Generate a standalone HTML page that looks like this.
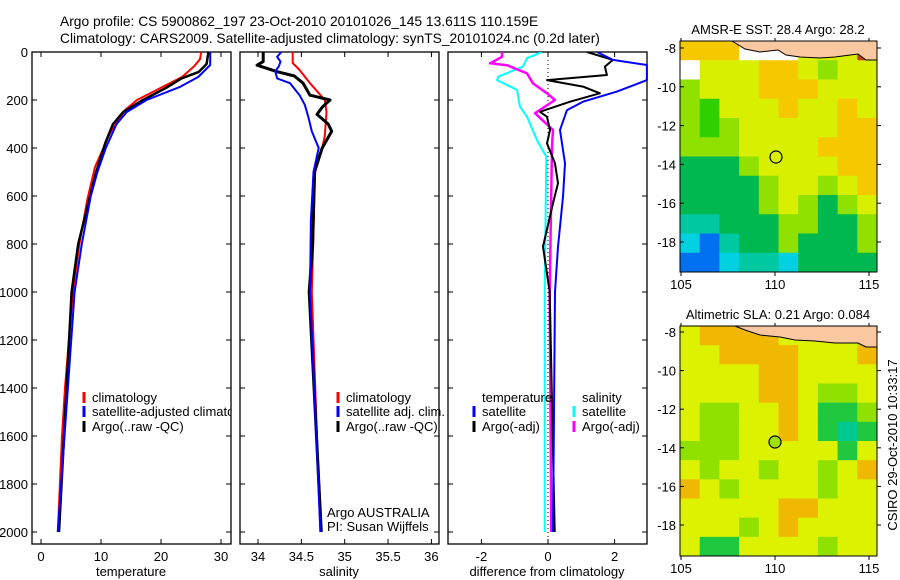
<!DOCTYPE html>
<html><head><meta charset="utf-8"><style>
html,body{margin:0;padding:0;background:#fff;}
svg{display:block;font-family:"Liberation Sans",sans-serif;}
text{fill:#000;}
</style></head><body>
<svg id="fig" width="900" height="580" viewBox="0 0 900 580" xmlns="http://www.w3.org/2000/svg">
<defs>
<clipPath id="c1"><rect x="32" y="52" width="199" height="492"/></clipPath>
<clipPath id="c2"><rect x="240" y="52" width="199" height="492"/></clipPath>
<clipPath id="c3"><rect x="448" y="52" width="200" height="492"/></clipPath>
<clipPath id="cm1"><rect x="680" y="41" width="197" height="231"/></clipPath>
<clipPath id="cm2"><rect x="680" y="326" width="197" height="230"/></clipPath>
</defs>
<text x="60" y="26" font-size="13.8">Argo profile: CS 5900862_197 23-Oct-2010 20101026_145 13.611S 110.159E</text>
<text x="60" y="43" font-size="13.8">Climatology: CARS2009. Satellite-adjusted climatology: synTS_20101024.nc (0.2d later)</text>
<g id="g1"></g>
<g id="g2"></g>
<g id="g3"></g>
<g id="m1"></g>
<g id="m2"></g>
<text transform="translate(897,445) rotate(-90)" text-anchor="middle" font-size="13">CSIRO 29-Oct-2010 10:33:17</text>
</svg>
<script>
// depth-profile data (depth m, value)
const tClimD=[0,30,60,104,158,200,242,338,479,617,800,1000,1400,1600,2000];
const tClimV=[26.7,26.5,25.5,23.5,19.3,16,14,11.5,9,7.7,6.4,5.3,4,3.5,2.8];
const tSatD=[0,54,104,145,200,250,300,400,500,600,800,1000,2000];
const tSatV=[28.2,28.2,26.2,23.2,17.6,14.3,12.6,10.8,9.4,8.3,6.8,5.6,2.8];
const tArgoD=[0,50,83,110,150,200,250,300,380,500,800,1000,2000];
const tArgoV=[27.9,27.6,26.3,23.4,20.8,17,13.7,12,10.7,9.2,6.2,5.1,3.0];
const sClimD=[0,46,75,130,200,250,350,400,500,1000,2000];
const sClimV=[34.4,34.4,34.48,34.6,34.77,34.79,34.77,34.74,34.66,34.62,34.72];
const sSatD=[0,20,40,60,80,110,130,180,220,270,330,400,500,700,1000,2000];
const sSatV=[34.27,34.22,34.26,34.24,34.2,34.22,34.37,34.48,34.54,34.58,34.62,34.7,34.64,34.61,34.6,34.72];
const sArgoD=[0,40,55,82,100,130,180,200,230,260,300,330,400,500,800,1000,2000];
const sArgoV=[34.06,34.06,33.99,34.22,34.42,34.52,34.6,34.83,34.74,34.68,34.81,34.85,34.74,34.65,34.63,34.59,34.73];
const dTsatD=[0,33,54,117,165,207,242,325,464,603,811,1000,2000];
const dTsatV=[1.47,1.95,2.97,2.97,2.07,1.05,0.57,0.36,0.51,0.45,0.3,0.21,0.15];
const dTargoD=[0,33,61,96,117,144,172,207,249,270,325,381,464,547,630,811,1000,2000];
const dTargoV=[1.17,1.95,1.71,1.77,-0.03,1.05,1.56,0.66,-0.24,-0.03,0.06,-0.03,0.21,0.3,0.15,-0.15,0.05,0.2];
const dSsatD=[0,26,61,103,117,158,228,270,367,436,1000,2000];
const dSsatV=[-0.18,-0.63,-0.75,-1.5,-1.53,-0.93,-0.84,-0.63,-0.33,-0.05,-0.1,-0.1];
const dSargoD=[0,20,47,55,89,131,172,200,255,325,394,1000,2000];
const dSargoV=[-1.38,-1.38,-1.74,-1.23,-0.63,-0.45,-0.03,0.21,-0.39,0.15,0.12,0.05,0.1];
// tick labels
const depthTicks=[0,200,400,600,800,1000,1200,1400,1600,1800,2000];
const tTicks=[0,10,20,30];
const sTicks=[34,34.5,35,35.5,36];
const sTickLabels=["34","34.5","35","35.5","36"];
const fTicks=[-2,0,2];
// map grids
const sstGrid=["OOOWWWYYYR","WYYYOOYGYY","GYYYOOOYYY","GgYYYOYYOY","GgGYYYYYOO","GGGYYYYOOO","DDDGYYYYOO","DDDDGYYGYO","DDDDGYGDGY","TTDDDGGDDG","CBTDDGDDDG","BBCTTCDDDD"];
const slaGrid=["YOOOOYYYYG","YYOOOOYYYO","YYYYOOYYYY","YYYYOOYGGY","YGGYYOYDDG","YGGYYOYDTD","GGGYYYYYDY","YGYYGYYGYO","OYGYYYYGYY","YYYYYOOYYY","YYYGYOYYYY","YDDYYYYGYY"];
const sstCol={Y:"#d8f000",O:"#f5c800",G:"#90e000",g:"#30d000",D:"#00b850",T:"#00c8a0",C:"#00d0e0",B:"#0070f0",W:"#ffffff",R:"#c04000"};
const slaCol={Y:"#dcf200",O:"#f0b800",G:"#90e000",D:"#20c840",T:"#00c890"};
const latTicks=[-8,-10,-12,-14,-16,-18];
const lonTicks=[105,110,115];

const NS="http://www.w3.org/2000/svg";
function mk(tag,attrs,parent){const e=document.createElementNS(NS,tag);for(const k in attrs)e.setAttribute(k,attrs[k]);parent.appendChild(e);return e;}
const yD=d=>52+0.24*d;
const xT=t=>41+6*t, xS=s=>258+86.7*(s-34), xF=v=>548+33.3*v;

function panel(g,x0,ticksX,xf,labels,title,clip){
  const r=mk('rect',{x:x0,y:52,width:199,height:492,fill:'none',stroke:'#000','stroke-width':1.3},g);
  
  depthTicks.forEach(d=>{
    mk('line',{x1:x0,x2:x0+5,y1:yD(d),y2:yD(d),stroke:'#000'},g);
    mk('line',{x1:x0+199,x2:x0+194,y1:yD(d),y2:yD(d),stroke:'#000'},g);
  });
  ticksX.forEach((t,i)=>{
    const x=xf(t);
    mk('line',{x1:x,x2:x,y1:544,y2:539,stroke:'#000'},g);
    mk('line',{x1:x,x2:x,y1:52,y2:57,stroke:'#000'},g);
    const tx=mk('text',{x:x,y:561,'text-anchor':'middle','font-size':13},g);
    
    tx.textContent=labels[i];
  });
  const tt=mk('text',{x:x0+99,y:576,'text-anchor':'middle','font-size':13},g);
  
  tt.textContent=title;
}
function line(g,D,V,xf,col,w,clip,name){
  const p=D.map((d,i)=>(i?'L':'M')+xf(V[i]).toFixed(1)+','+yD(d).toFixed(1)).join('');
  const e=mk('path',{d:p,fill:'none',stroke:col,'stroke-width':w,'clip-path':'url(#'+clip+')','stroke-linejoin':'round'},g);
  
}
function legend(g,x,y,col,label){
  if(col){mk('line',{x1:x,x2:x,y1:y-10,y2:y+1,stroke:col,'stroke-width':3},g);}
  const t=mk('text',{x:x+8,y:y,'font-size':13},g);
  
  t.textContent=label;
}
const g1=document.getElementById('g1'),g2=document.getElementById('g2'),g3=document.getElementById('g3');
panel(g1,32,tTicks,xT,tTicks.map(String),'temperature');
depthTicks.forEach(d=>{const t=mk('text',{x:28,y:yD(d)+5,'text-anchor':'end','font-size':13},g1);
  t.textContent=d;});
line(g1,tClimD,tClimV,xT,'#f00',2,'c1','temp-climatology-line');
line(g1,tArgoD,tArgoV,xT,'#000',2.5,'c1','temp-argo-line');
line(g1,tSatD,tSatV,xT,'#00f',2,'c1','temp-satellite-line');
const lg1=mk('g',{'clip-path':'url(#c1)'},g1);
legend(lg1,84,402,'#f00','climatology');legend(lg1,84,416,'#00f','satellite-adjusted climatology');legend(lg1,84,431,'#000','Argo(..raw -QC)');

panel(g2,240,sTicks,xS,sTickLabels,'salinity');
line(g2,sClimD,sClimV,xS,'#f00',2,'c2','sal-climatology-line');
line(g2,sArgoD,sArgoV,xS,'#000',3,'c2','sal-argo-line');
line(g2,sSatD,sSatV,xS,'#00f',2,'c2','sal-satellite-line');
legend(g2,338,402,'#f00','climatology');legend(g2,338,416,'#00f','satellite adj. clim.');legend(g2,338,431,'#000','Argo(..raw -QC)');
legend(g2,319,517,null,'Argo AUSTRALIA');legend(g2,319,531,null,'PI: Susan Wijffels');

panel(g3,448,fTicks,xF,fTicks.map(String),'difference from climatology');
mk('line',{x1:548,x2:548,y1:52,y2:544,stroke:'#000','stroke-dasharray':'1,3'},g3);
line(g3,dSsatD,dSsatV,xF,'#0ff',2,'c3','diff-sal-satellite-line');
line(g3,dSargoD,dSargoV,xF,'#f0f',2.5,'c3','diff-sal-argo-line');
line(g3,dTargoD,dTargoV,xF,'#000',2,'c3','diff-temp-argo-line');
line(g3,dTsatD,dTsatV,xF,'#00f',2,'c3','diff-temp-satellite-line');
legend(g3,474,402,null,'temperature');legend(g3,474,416,'#00f','satellite');legend(g3,474,431,'#000','Argo(-adj)');
legend(g3,574,402,null,'salinity');legend(g3,574,416,'#0ff','satellite');legend(g3,574,431,'#f0f','Argo(-adj)');

function map(g,y0,h,grid,cols,title,clip,lat8,dl,circ,fillC,land){
  const x0=680,w=197,nr=grid.length,nc=grid[0].length,cw=w/nc,ch=h/nr;
  const cg=mk('g',{'clip-path':'url(#'+clip+')'},g);
  grid.forEach((row,r)=>{[...row].forEach((c,k)=>{
    const e=mk('rect',{x:x0+k*cw,y:y0+r*ch,width:cw+0.6,height:ch+0.6,fill:cols[c]},cg);
    
  });});
  const lp=mk('path',{d:land,fill:'#fac8a0',stroke:'#000','stroke-width':1},cg);
  
  const ci=mk('circle',{cx:circ[0],cy:circ[1],r:6,fill:fillC,stroke:'#000','stroke-width':1.2},g);
  
  mk('rect',{x:x0,y:y0,width:w,height:h,fill:'none',stroke:'#000'},g);
  const t=mk('text',{x:778,y:y0-7,'text-anchor':'middle','font-size':13},g);
  t.textContent=title;
  latTicks.forEach(l=>{const y=lat8+(-8-l)*dl;
    mk('line',{x1:x0,x2:x0+4,y1:y,y2:y,stroke:'#000'},g);mk('line',{x1:x0+w,x2:x0+w+4,y1:y,y2:y,stroke:'#000'},g);
    const tx=mk('text',{x:676,y:y+5,'text-anchor':'end','font-size':13},g);
    tx.textContent=l;});
  lonTicks.forEach(l=>{const x=681+(l-105)*18.8;
    mk('line',{x1:x,x2:x,y1:y0+h,y2:y0+h+4,stroke:'#000'},g);mk('line',{x1:x,x2:x,y1:y0,y2:y0-3,stroke:'#000'},g);
    const tx=mk('text',{x:x,y:y0+h+17,'text-anchor':'middle','font-size':13},g);
    tx.textContent=l;});
}
map(document.getElementById('m1'),41,231,sstGrid,sstCol,'AMSR-E SST: 28.4 Argo: 28.2','cm1',48,19.4,[776,157],'none',
 'M732,41 L745,49 L760,52 L778,50 L786,55 L800,57 L820,58 L835,57 L858,54 L866,60 L877,60 L877,41 Z');
map(document.getElementById('m2'),326,230,slaGrid,slaCol,'Altimetric SLA: 0.21 Argo: 0.084','cm2',332,19.3,[775,442],'#a0e000',
 'M735,326 L745,330 L760,335 L780,337 L795,340 L815,341 L835,343 L858,343 L866,347 L877,347 L877,326 Z');
</script>
</body></html>
